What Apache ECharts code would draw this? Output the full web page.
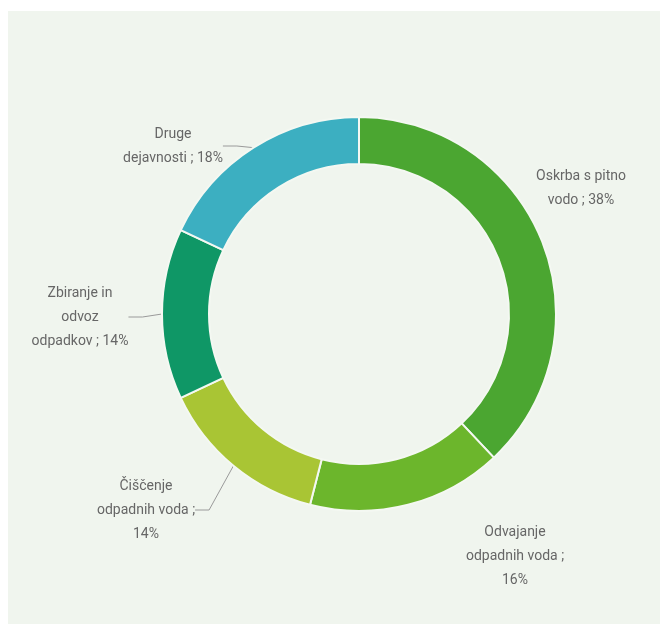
<!DOCTYPE html>
<html>
<head>
<meta charset="utf-8">
<script src="https://cdn.jsdelivr.net/npm/echarts@6/dist/echarts.min.js"></script>
<style>
  html, body { margin: 0; padding: 0; background: #fff; }
  #main { width: 660px; height: 624px; }
</style>
</head>
<body>
<div id="main"></div>
<script>
// deleži po dejavnostih (%)
var categories = ['Oskrba s pitno\nvodo', 'Odvajanje\nodpadnih voda', 'Čiščenje\nodpadnih voda', 'Zbiranje in\nodvoz\nodpadkov', 'Druge\ndejavnosti'];
var shares = [38, 16, 14, 14, 18];
var colors = ['#4ba631', '#6cb62c', '#a9c534', '#0f9766', '#3cafc1'];

// kam postavimo oznake (središče besedila)
var labelPlaces = [[581, 188], [515, 556], [146, 510], [80, 317], [173, 146]];
var showLines = [false, false, true, true, true];

var pieData = [];
for (var i = 0; i < categories.length; i++) {
  pieData.push({
    name: categories[i],
    value: shares[i],
    itemStyle: { color: colors[i] },
    labelLine: { show: showLines[i] }
  });
}

var myChart = echarts.init(document.getElementById('main'));
myChart.setOption({
  backgroundColor: '#ffffff',
  animation: false,
  graphic: [{
    type: 'rect',
    z: -10,
    shape: { x: 8, y: 11, width: 660, height: 624 },
    style: { fill: '#f0f5ee' }
  }],
  series: [{
    type: 'pie',
    center: [359, 314],
    radius: [150, 197],
    startAngle: 90,
    clockwise: true,
    data: pieData,
    itemStyle: {
      borderColor: '#f4f8f2',
      borderWidth: 2
    },
    label: {
      show: true,
      formatter: function (p) {
        var t = p.name + ' ; ' + p.value + '%';
        if (p.dataIndex === 1 || p.dataIndex === 2) {
          t = p.name + ' ;\n' + p.value + '%';
        }
        return t;
      },
      overflow: 'none',
      color: '#666',
      fontFamily: 'Roboto',
      fontSize: 14,
      lineHeight: 24,
      align: 'center'
    },
    labelLine: {
      show: true,
      length: 14,
      length2: 14,
      lineStyle: { color: '#9a9a9a', width: 1 }
    },
    labelLayout: function (params) {
      var pos = labelPlaces[params.dataIndex];
      return {
        x: pos[0],
        y: pos[1],
        align: 'center',
        verticalAlign: 'middle'
      };
    }
  }]
});
</script>
</body>
</html>
